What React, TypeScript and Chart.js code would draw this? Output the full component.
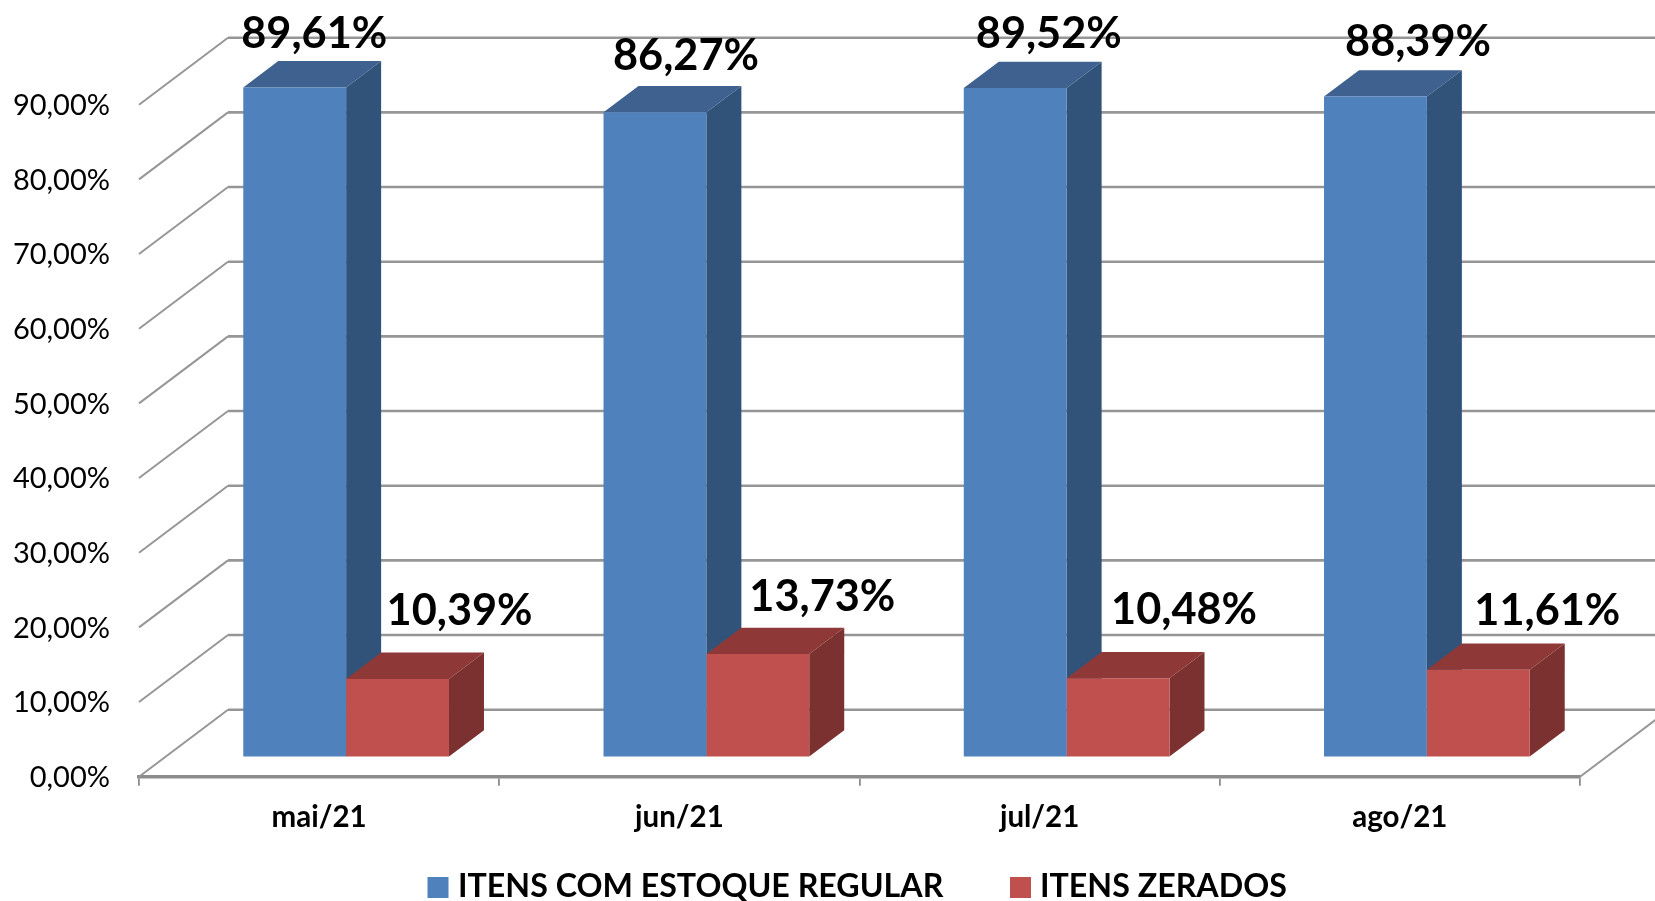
import React, { useEffect, useRef } from "react";
import { Chart, registerables } from "chart.js";

Chart.register(...registerables);

const categories = ["mai/21", "jun/21", "jul/21", "ago/21"];
const regular = [89.61, 86.27, 89.52, 88.39];
const zerados = [10.39, 13.73, 10.48, 11.61];
const seriesNames = ["ITENS COM ESTOQUE REGULAR", "ITENS ZERADOS"];

const FONT = "Lato, Carlito, 'Open Sans', sans-serif";
const BLUE = "#4F81BD";
const RED = "#C0504D";
const faces = [
  { top: "#3E618F", side: "#325379" },
  { top: "#8E3938", side: "#7B3130" },
];

// projection of the 3D box
const WALL = { dx: 89, dy: 67 };
const BAR_SHIFT = { dx: 27, dy: 20.2 };
const BAR_DEPTH = { dx: 35, dy: 26.3 };
// manual data-label placement, offset from the front-face centre/top of each bar
const labelOffsets = [
  [[19.5, -53], [31, -56], [33.6, -53.6], [42.6, -54]],
  [[62, -68], [64.5, -57], [66, -68], [69, -59]],
];
const legendLayout = [
  { box: 427.5, text: 458 },
  { box: 1010, text: 1040 },
];

const fmt = (v: number) => v.toFixed(2).replace(".", ",") + "%";

const poly = (ctx: CanvasRenderingContext2D, pts: number[][], fill: string) => {
  ctx.beginPath();
  pts.forEach((p, i) => (i ? ctx.lineTo(p[0], p[1]) : ctx.moveTo(p[0], p[1])));
  ctx.closePath();
  ctx.fillStyle = fill;
  ctx.fill();
};

const box3d = {
  id: "box3d",
  beforeDatasetsDraw(chart: any) {
    const { ctx, scales, chartArea } = chart;
    const y = scales.y;
    const { left, right } = chartArea;
    ctx.save();
    ctx.strokeStyle = "#969696";
    ctx.lineCap = "butt";
    y.ticks.forEach((t: any) => {
      const py = y.getPixelForValue(t.value);
      ctx.lineWidth = 2;
      ctx.beginPath();
      ctx.moveTo(left, py);
      ctx.lineTo(left + WALL.dx, py - WALL.dy);
      ctx.stroke();
      ctx.lineWidth = 2.6;
      ctx.beginPath();
      ctx.moveTo(left + WALL.dx, py - WALL.dy);
      ctx.lineTo(right + WALL.dx, py - WALL.dy);
      ctx.stroke();
    });
    const y0 = y.getPixelForValue(0);
    ctx.lineWidth = 2;
    ctx.beginPath();
    ctx.moveTo(right, y0);
    ctx.lineTo(right + WALL.dx, y0 - WALL.dy);
    ctx.stroke();
    ctx.restore();

    ctx.save();
    ctx.translate(BAR_SHIFT.dx, -BAR_SHIFT.dy);
    categories.forEach((_, i) => {
      chart.data.datasets.forEach((_d: any, di: number) => {
        const bar = chart.getDatasetMeta(di).data[i];
        const l = bar.x - bar.width / 2;
        const r = bar.x + bar.width / 2;
        const { dx, dy } = BAR_DEPTH;
        poly(ctx, [[l, bar.y], [l + dx, bar.y - dy], [r + dx, bar.y - dy], [r, bar.y]], faces[di].top);
        poly(ctx, [[r, bar.y], [r + dx, bar.y - dy], [r + dx, bar.base - dy], [r, bar.base]], faces[di].side);
      });
    });
  },
  afterDatasetsDraw(chart: any) {
    const { ctx } = chart;
    ctx.restore();
    ctx.save();
    ctx.fillStyle = "#000";
    ctx.textAlign = "center";
    ctx.textBaseline = "middle";
    ctx.font = `bold 43.3px ${FONT}`;
    chart.data.datasets.forEach((d: any, di: number) => {
      chart.getDatasetMeta(di).data.forEach((bar: any, i: number) => {
        const [ox, oy] = labelOffsets[di][i];
        ctx.fillText(fmt(d.data[i]), bar.x + BAR_SHIFT.dx + ox, bar.y - BAR_SHIFT.dy + oy);
      });
    });
    // legend
    ctx.textAlign = "left";
    ctx.font = `bold 32.2px ${FONT}`;
    chart.data.datasets.forEach((d: any, di: number) => {
      ctx.fillStyle = d.backgroundColor;
      ctx.fillRect(legendLayout[di].box, 877, 21, 21);
      ctx.fillStyle = "#000";
      ctx.fillText(d.label, legendLayout[di].text, 887);
    });
    ctx.restore();
  },
};

export default function App() {
  const ref = useRef<HTMLCanvasElement>(null);
  useEffect(() => {
    document.body.style.margin = "0";
    const chart = new Chart(ref.current!, {
      type: "bar",
      data: {
        labels: categories,
        datasets: [
          { label: seriesNames[0], data: regular, backgroundColor: BLUE, clip: false as any },
          { label: seriesNames[1], data: zerados, backgroundColor: RED, clip: false as any },
        ],
      },
      options: {
        responsive: false,
        animation: false,
        layout: { padding: { left: 0, top: 104.7, right: 75, bottom: 0 } },
        plugins: { legend: { display: false }, tooltip: { enabled: false } },
        datasets: { bar: { categoryPercentage: 0.571, barPercentage: 1 } },
        scales: {
          x: {
            afterFit: (s: any) => { s.height = 124.3; },
            border: { display: true, color: "#8C8C8C", width: 3.5 },
            grid: { drawOnChartArea: false, color: "#8C8C8C", tickLength: 9, lineWidth: 1.8 },
            ticks: { color: "#000", padding: 14.5, maxRotation: 0, font: { family: FONT, size: 29.5, weight: "bold" } },
          },
          y: {
            min: 0,
            max: 90,
            afterFit: (s: any) => { s.width = 139; },
            border: { display: false },
            grid: { display: false },
            ticks: {
              stepSize: 10,
              padding: 21,
              labelOffset: 1,
              color: "#000",
              font: { family: FONT, size: 29 },
              callback: (v: any) => fmt(Number(v)),
            },
          },
        },
      },
      plugins: [box3d],
    } as any);
    return () => chart.destroy();
  }, []);
  return <canvas ref={ref} width={1655} height={901} style={{ display: "block" }} />;
}
